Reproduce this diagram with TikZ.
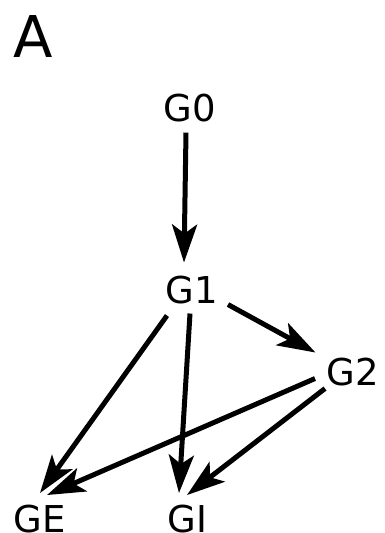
\documentclass[tikz,border=0pt]{standalone}
\usepackage{fontspec}
\setmainfont{DejaVu Sans}
\usetikzlibrary{arrows.meta}
\begin{document}
\begin{tikzpicture}[x=1pt,y=-1pt,
  lbl/.style={inner sep=0pt,outer sep=0pt,font=\fontsize{37}{37}\selectfont,anchor=base},
  edge/.style={line width=5pt,-{Stealth[length=38pt,width=25pt,inset=9pt]}}]
\useasboundingbox (0,0) rectangle (384,533);
\clip (0,0) rectangle (384,533);
\fill[white] (0,0) rectangle (384,533);
\node[inner sep=0pt,anchor=base west,font=\fontsize{57.6}{58}\selectfont] (A) at (13,57) {A};
\node[lbl] (g0) at (190,121) {G0};
\node[lbl] (g1) at (192,303) {G1};
\node[lbl] (g2) at (352.5,385) {G2};
\node[lbl] (ge) at (40,532) {GE};
\node[lbl] (gi) at (187.5,532) {GI};
\draw[edge] ([shift={(-4,25)}]g0.center) -- ([shift={(-8,-27)}]g1.center);
\draw[edge] ([shift={(36,15)}]g1.center) -- ([shift={(-37,-19)}]g2.center);
\draw[edge] ([shift={(-25,26)}]g1.center) -- ([shift={(0,-25.5)}]ge.center);
\draw[edge] ([shift={(-2,24)}]g1.center) -- ([shift={(-8.5,-25.5)}]gi.center);
\draw[edge] ([shift={(-37.5,7)}]g2.center) -- ([shift={(7,-23.5)}]ge.center);
\draw[edge] ([shift={(-27.5,17)}]g2.center) -- ([shift={(-0.5,-23.5)}]gi.center);
\end{tikzpicture}
\end{document}
